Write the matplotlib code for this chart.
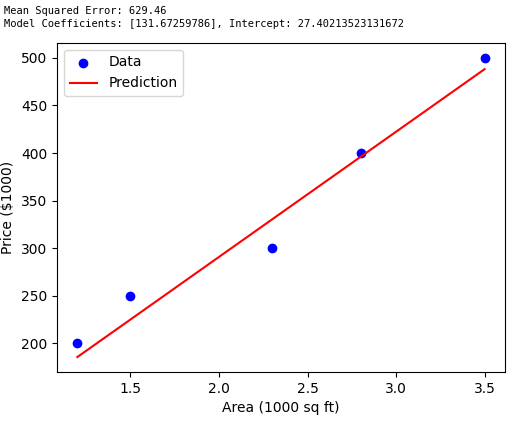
import matplotlib
matplotlib.use("Agg")
import matplotlib.pyplot as plt
import numpy as np

area = [1.2, 1.5, 2.3, 2.8, 3.5]
price = [200, 250, 300, 400, 500]
coef = 131.67259786
intercept = 27.40213523131672
mse = 629.46

fig = plt.figure(figsize=(5.29, 4.26), dpi=100)
fig.text(0.008, 0.985, f"Mean Squared Error: {mse}", family="DejaVu Sans Mono", fontsize=7.5, va="top")
fig.text(0.008, 0.955, f"Model Coefficients: [{coef}], Intercept: {intercept}", family="DejaVu Sans Mono", fontsize=7.5, va="top")
ax = fig.add_axes([57/529, 1-372/426, 448/529, 329/426])
ax.scatter(area, price, color="blue", label="Data")
pred = [coef * a + intercept for a in area]
ax.plot(area, pred, color="red", label="Prediction")
ax.set_xlabel("Area (1000 sq ft)")
ax.set_ylabel("Price ($1000)")
ax.legend(loc="upper left")
fig.savefig("out.png", dpi=100)
